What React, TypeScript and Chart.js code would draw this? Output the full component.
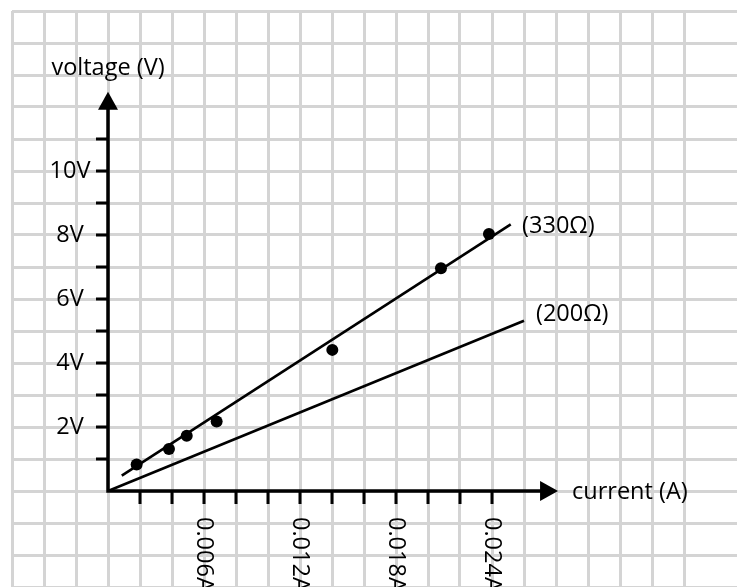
import React, { useEffect, useRef } from "react";
import { Chart, registerables } from "chart.js";

Chart.register(...registerables);

// measured points (current in A, voltage in V)
const measuredCurrent = [0.00179, 0.00381, 0.00492, 0.00679, 0.01402, 0.02081, 0.02381];
const measuredVoltage = [0.83, 1.31, 1.73, 2.17, 4.41, 6.96, 8.03];

// fitted 330 ohm line endpoints
const line330Current = [0.00086, 0.02517];
const line330Voltage = [0.48, 8.33];

// 200 ohm line endpoints
const line200Current = [0, 0.026];
const line200Voltage = [0, 5.32];

// axis ticks
const xMinorTicks = [0.002, 0.004, 0.006, 0.008, 0.01, 0.012, 0.014, 0.016, 0.018, 0.02, 0.022, 0.024];
const xTickValues = [0.006, 0.012, 0.018, 0.024];
const xTickLabels = ["0.006A", "0.012A", "0.018A", "0.024A"];
const yMinorTicks = [1, 2, 3, 4, 5, 6, 7, 8, 9, 10, 11];
const yTickValues = [2, 4, 6, 8, 10];
const yTickLabels = ["2V", "4V", "6V", "8V", "10V"];

const xAxisEnd = 0.02813;
const yAxisEnd = 12.48;

const lineLabels = ["(330Ω)", "(200Ω)"];
const lineLabelX = [0.02588, 0.02675];
const lineLabelY = [8.28, 5.53];

const FONT = '"Open Sans", sans-serif';
const FONT_SIZE = 23.5;

const axesPlugin = {
  id: "handAxes",
  beforeDatasetsDraw(chart: any) {
    const ctx = chart.ctx;
    const xs = chart.scales.x;
    const ys = chart.scales.y;
    const ox = xs.getPixelForValue(0);
    const oy = ys.getPixelForValue(0);
    const xe = xs.getPixelForValue(xAxisEnd);
    const ye = ys.getPixelForValue(yAxisEnd);
    ctx.save();
    ctx.strokeStyle = "#000";
    ctx.fillStyle = "#000";
    ctx.lineWidth = 3.5;
    ctx.lineCap = "butt";
    // axes
    ctx.beginPath();
    ctx.moveTo(ox - 1.75, oy);
    ctx.lineTo(xe - 14, oy);
    ctx.moveTo(ox, oy + 1.75);
    ctx.lineTo(ox, ye + 14);
    ctx.stroke();
    // arrowheads
    ctx.beginPath();
    ctx.moveTo(xe, oy);
    ctx.lineTo(xe - 18, oy - 10);
    ctx.lineTo(xe - 18, oy + 10);
    ctx.closePath();
    ctx.fill();
    ctx.beginPath();
    ctx.moveTo(ox, ye);
    ctx.lineTo(ox - 10, ye + 18);
    ctx.lineTo(ox + 10, ye + 18);
    ctx.closePath();
    ctx.fill();
    // tick marks
    ctx.lineWidth = 3;
    ctx.beginPath();
    xMinorTicks.forEach((v) => {
      const px = xs.getPixelForValue(v);
      ctx.moveTo(px, oy);
      ctx.lineTo(px, oy + 13);
    });
    yMinorTicks.forEach((v) => {
      const py = ys.getPixelForValue(v);
      ctx.moveTo(ox, py);
      ctx.lineTo(ox - 12, py);
    });
    ctx.stroke();
    // tick labels
    ctx.font = `${FONT_SIZE}px ${FONT}`;
    ctx.fillStyle = "#000";
    ctx.textAlign = "center";
    ctx.textBaseline = "middle";
    yTickValues.forEach((v, i) => {
      ctx.fillText(yTickLabels[i], ox - 38, ys.getPixelForValue(v));
    });
    xTickValues.forEach((v, i) => {
      const px = xs.getPixelForValue(v);
      ctx.save();
      ctx.translate(px, oy + 26);
      ctx.rotate(Math.PI / 2);
      ctx.textAlign = "left";
      ctx.textBaseline = "middle";
      ctx.fillText(xTickLabels[i], 0, 0);
      ctx.restore();
    });
    // axis titles
    ctx.textAlign = "center";
    ctx.fillText("voltage (V)", ox, ys.getPixelForValue(13.22));
    ctx.textAlign = "left";
    ctx.fillText("current (A)", xs.getPixelForValue(0.029), oy + 1);
    // line labels
    lineLabels.forEach((t, i) => {
      ctx.fillText(t, xs.getPixelForValue(lineLabelX[i]), ys.getPixelForValue(lineLabelY[i]));
    });
    ctx.restore();
  },
};

function onGrid(step: number) {
  return (scale: any) => {
    scale.ticks = scale.ticks.filter((t: any) => {
      const r = t.value / step;
      return Math.abs(r - Math.round(r)) < 1e-6;
    });
  };
}

export default function App() {
  const ref = useRef<HTMLCanvasElement>(null);
  useEffect(() => {
    if (!ref.current) return;
    const chart = new Chart(ref.current, {
      type: "scatter",
      data: {
        datasets: [
          {
            label: "330Ω",
            data: line330Current.map((x, i) => ({ x, y: line330Voltage[i] })),
            showLine: true,
            borderColor: "#000",
            borderWidth: 2.6,
            pointRadius: 0,
          },
          {
            label: "200Ω",
            data: line200Current.map((x, i) => ({ x, y: line200Voltage[i] })),
            showLine: true,
            borderColor: "#000",
            borderWidth: 2.6,
            pointRadius: 0,
          },
          {
            label: "measured",
            data: measuredCurrent.map((x, i) => ({ x, y: measuredVoltage[i] })),
            showLine: false,
            pointRadius: 6,
            pointBackgroundColor: "#000",
            pointBorderColor: "#000",
            pointBorderWidth: 0,
          },
        ],
      },
      options: {
        responsive: false,
        animation: false,
        layout: { autoPadding: false, padding: { left: 12, top: 11, right: 0, bottom: 0 } },
        plugins: { legend: { display: false }, tooltip: { enabled: false } },
        scales: {
          x: {
            type: "linear",
            min: -0.006,
            max: 0.0393125,
            afterBuildTicks: onGrid(0.002),
            ticks: { display: false, stepSize: 0.002 },
            grid: { color: "#d4d4d4", lineWidth: 3, drawTicks: false },
            border: { display: false },
          },
          y: {
            type: "linear",
            min: -3,
            max: 15,
            afterBuildTicks: onGrid(1),
            ticks: { display: false, stepSize: 1 },
            grid: { color: "#d4d4d4", lineWidth: 3, drawTicks: false },
            border: { display: false },
          },
        },
      },
      plugins: [axesPlugin],
    });
    return () => chart.destroy();
  }, []);
  return (
    <div style={{ position: "absolute", left: 0, top: 0, width: 737, height: 587, background: "#fff" }}>
      <canvas ref={ref} width={737} height={587} />
    </div>
  );
}
